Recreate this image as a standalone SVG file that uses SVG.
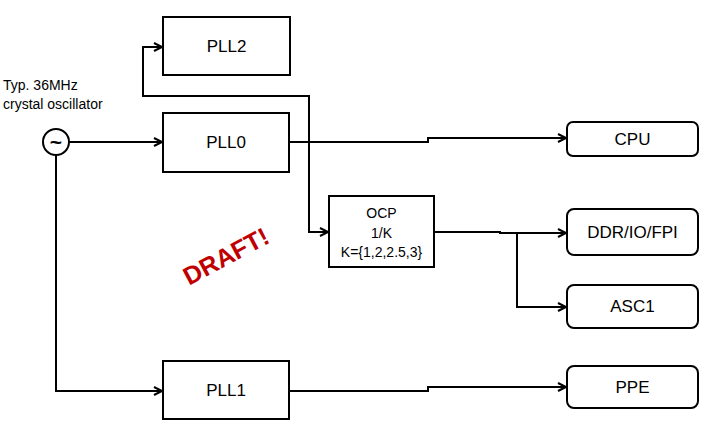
<svg xmlns="http://www.w3.org/2000/svg" width="720" height="437" viewBox="0 0 720 437">
<style>
.box{fill:#fff;stroke:#000;stroke-width:2}
.lbl{font-family:"Liberation Sans",Arial,sans-serif;font-size:17px;fill:#000;text-anchor:middle}
.sm{font-family:"Liberation Sans",Arial,sans-serif;font-size:14px;fill:#000}
.wire{fill:none;stroke:#000;stroke-width:2}
</style>
<defs>
<marker id="arr" markerUnits="userSpaceOnUse" markerWidth="12" markerHeight="12" refX="9" refY="5" orient="auto">
<path d="M1,1 L9,5 L1,9" fill="none" stroke="#000" stroke-width="2"/>
</marker>
</defs>
<rect width="720" height="437" fill="#fff"/>
<g id="connectors">
<path class="wire" d="M69,142 H162" marker-end="url(#arr)"/>
<path class="wire" d="M56,155 V391 H162" marker-end="url(#arr)"/>
<path class="wire" d="M290,142 H428 V138 H566" marker-end="url(#arr)"/>
<path class="wire" d="M309,95 V232 H328" marker-end="url(#arr)"/>
<path class="wire" d="M309,96 H143 V47 H162" marker-end="url(#arr)"/>
<path class="wire" d="M434,232 H500 V233 H566" marker-end="url(#arr)"/>
<path class="wire" d="M517,233 V307 H566" marker-end="url(#arr)"/>
<path class="wire" d="M290,391 H428 V387 H566" marker-end="url(#arr)"/>
</g>
<g id="osc">
<circle cx="56" cy="142" r="13" fill="#fff" stroke="#000" stroke-width="2"/>
<text x="56" y="149" class="lbl" style="font-size:21px;font-weight:bold">~</text>
<text x="3" y="90" class="sm">Typ. 36MHz</text>
<text x="3" y="109" class="sm">crystal oscillator</text>
</g>
<g id="pll2">
<rect class="box" x="163" y="17" width="127" height="58"/>
<text class="lbl" x="226.5" y="52">PLL2</text>
</g>
<g id="pll0">
<rect class="box" x="163" y="113" width="126" height="59"/>
<text class="lbl" x="226" y="148">PLL0</text>
</g>
<g id="pll1">
<rect class="box" x="163" y="361" width="126" height="58"/>
<text class="lbl" x="226" y="396">PLL1</text>
</g>
<g id="ocp">
<rect class="box" x="329" y="196" width="105" height="71"/>
<text class="lbl" x="381.5" y="218" style="font-size:14px">OCP</text>
<text class="lbl" x="381.5" y="238" style="font-size:14px">1/K</text>
<text class="lbl" x="381.5" y="257" style="font-size:14px">K={1,2,2.5,3}</text>
</g>
<g id="cpu">
<rect class="box" x="567" y="122" width="131" height="34" rx="6"/>
<text class="lbl" x="632.5" y="145">CPU</text>
</g>
<g id="ddr">
<rect class="box" x="567" y="209" width="131" height="46" rx="7"/>
<text class="lbl" x="632.5" y="238">DDR/IO/FPI</text>
</g>
<g id="asc1">
<rect class="box" x="567" y="285" width="131" height="43" rx="7"/>
<text class="lbl" x="632.5" y="312">ASC1</text>
</g>
<g id="ppe">
<rect class="box" x="567" y="366" width="131" height="42" rx="7"/>
<text class="lbl" x="632.5" y="393">PPE</text>
</g>
<text x="227" y="258" transform="rotate(-28 227 258)" text-anchor="middle" dominant-baseline="middle" font-family="Liberation Sans,Arial,sans-serif" font-weight="bold" font-size="25" fill="#C00000">DRAFT!</text>
</svg>
